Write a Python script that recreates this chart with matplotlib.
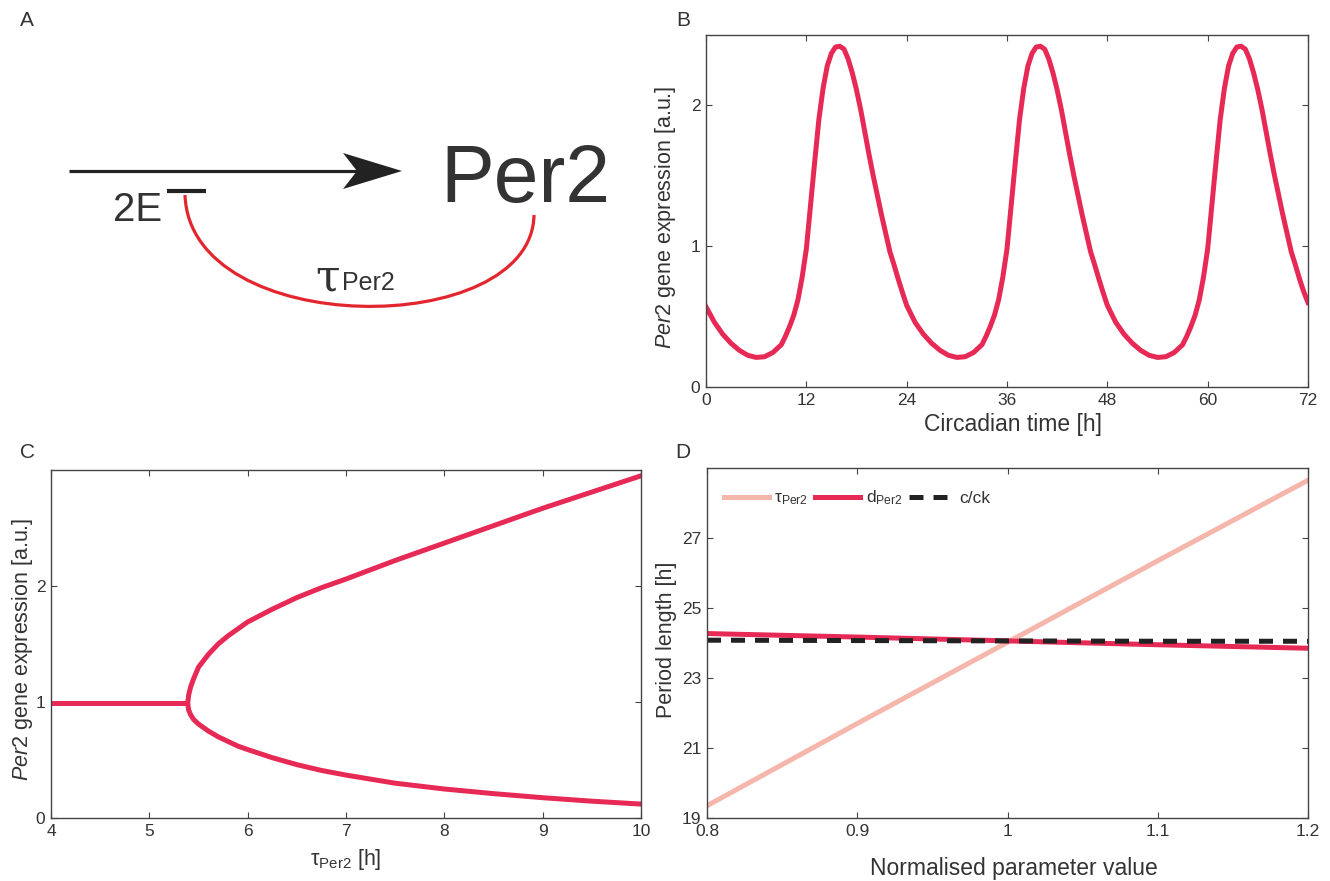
import numpy as np
import matplotlib
matplotlib.use('Agg')
import matplotlib.pyplot as plt
from matplotlib.patches import Polygon, PathPatch
from matplotlib.path import Path

plt.rcParams['font.family'] = ['Liberation Sans', 'DejaVu Sans']
plt.rcParams['mathtext.fontset'] = 'custom'
plt.rcParams['mathtext.rm'] = 'Liberation Sans'
plt.rcParams['mathtext.it'] = 'Liberation Sans:italic'

# ---- data ----
# B: Per2 expression over 72 h
time_h = [0, 1, 2, 3, 4, 5, 6, 7, 8, 9, 9.5, 10, 10.5, 11, 11.5, 12, 12.5, 13, 13.5, 14, 14.5,
          15, 15.5, 16, 16.5, 17, 17.5, 18, 18.5, 19, 19.5, 20, 20.5, 21, 21.5, 22, 22.5, 23, 23.5,
          24, 25, 26, 27, 28, 29, 30, 31, 32, 33, 33.5, 34, 34.5, 35, 35.5, 36, 36.5, 37, 37.5, 38, 38.5,
          39, 39.5, 40, 40.5, 41, 41.5, 42, 42.5, 43, 43.5, 44, 44.5, 45, 45.5, 46, 46.5, 47, 47.5,
          48, 49, 50, 51, 52, 53, 54, 55, 56, 57, 57.5, 58, 58.5, 59, 59.5, 60, 60.5, 61, 61.5, 62, 62.5,
          63, 63.5, 64, 64.5, 65, 65.5, 66, 66.5, 67, 67.5, 68, 68.5, 69, 69.5, 70, 70.5, 71, 71.5, 72]
per2_expr = [0.57, 0.46, 0.375, 0.31, 0.26, 0.225, 0.21, 0.215, 0.245, 0.30, 0.36, 0.43, 0.51, 0.62, 0.78, 0.98, 1.29, 1.60, 1.90, 2.12, 2.28,
             2.37, 2.415, 2.42, 2.40, 2.33, 2.23, 2.11, 1.97, 1.81, 1.65, 1.50, 1.36, 1.22, 1.09, 0.96, 0.865, 0.765, 0.67,
             0.58, 0.46, 0.375, 0.31, 0.26, 0.225, 0.21, 0.215, 0.245, 0.30, 0.36, 0.43, 0.51, 0.62, 0.78, 0.98, 1.29, 1.60, 1.90, 2.12, 2.28,
             2.37, 2.415, 2.42, 2.40, 2.33, 2.23, 2.11, 1.97, 1.81, 1.65, 1.50, 1.36, 1.22, 1.09, 0.96, 0.865, 0.765, 0.67,
             0.58, 0.46, 0.375, 0.31, 0.26, 0.225, 0.21, 0.215, 0.245, 0.30, 0.36, 0.43, 0.51, 0.62, 0.78, 0.98, 1.29, 1.60, 1.90, 2.12, 2.28,
             2.37, 2.415, 2.42, 2.40, 2.33, 2.23, 2.11, 1.97, 1.81, 1.65, 1.50, 1.36, 1.22, 1.09, 0.96, 0.865, 0.765, 0.675, 0.60]

# C: bifurcation diagram
steady_tau = [4.0, 5.39]
steady_val = [0.99, 0.99]
upper_tau = [5.39, 5.40, 5.42, 5.45, 5.5, 5.6, 5.7, 5.8, 5.9, 6.0, 6.25, 6.5, 6.75, 7.0, 7.5, 8.0, 8.5, 9.0, 9.5, 10.0]
upper_val = [0.99, 1.06, 1.13, 1.20, 1.30, 1.41, 1.50, 1.57, 1.63, 1.69, 1.80, 1.90, 1.985, 2.06, 2.22, 2.37, 2.52, 2.67, 2.81, 2.95]
lower_tau = [5.39, 5.40, 5.42, 5.45, 5.5, 5.6, 5.7, 5.8, 5.9, 6.0, 6.25, 6.5, 6.75, 7.0, 7.5, 8.0, 8.5, 9.0, 9.5, 10.0]
lower_val = [0.99, 0.93, 0.89, 0.85, 0.81, 0.75, 0.70, 0.66, 0.62, 0.59, 0.52, 0.46, 0.41, 0.37, 0.30, 0.25, 0.21, 0.175, 0.145, 0.12]

# D: period vs normalised parameter
norm_param = [0.8, 0.9, 1.0, 1.1, 1.2]
period_tau = [19.35, 21.7, 24.02, 26.35, 28.65]
period_d = [24.27, 24.17, 24.06, 23.95, 23.85]
period_cck = [24.08, 24.07, 24.06, 24.05, 24.05]

W, H = 1330, 881
crimson = '#E62A55'
salmon = '#F5B6AB'
txt = '#333333'

fig = plt.figure(figsize=(W / 100, H / 100), dpi=100)


def style(ax):
    for s in ax.spines.values():
        s.set_color('#444444')
        s.set_linewidth(1.0)
    ax.tick_params(direction='in', top=True, right=True, length=4, width=0.8,
                   colors='#444444', labelcolor=txt, labelsize=12.5, pad=4)


# ---- A: schematic ----
axA = fig.add_axes([0, 1 - 430 / H, 660 / W, 430 / H])
axA.set_xlim(0, 660)
axA.set_ylim(430, 0)
axA.axis('off')
axA.plot([69, 362], [171, 171], color='#222222', lw=2.3, solid_capstyle='butt')
axA.add_patch(Polygon([[402, 171], [343, 153], [357, 171], [343, 189]], closed=True,
                      color='#222222', lw=0))
axA.text(440, 202, 'Per2', fontsize=58, color=txt, ha='left', va='baseline')
axA.text(113, 221, '2E', fontsize=29, color=txt, ha='left', va='baseline')
axA.plot([167, 206], [191, 191], color='#222222', lw=3, solid_capstyle='butt')
arc = Path([(185, 195), (190, 340), (532, 340), (534, 215)],
           [Path.MOVETO, Path.CURVE4, Path.CURVE4, Path.CURVE4])
axA.add_patch(PathPatch(arc, facecolor='none', edgecolor='#E3262E', lw=2.3))
axA.text(328, 290, 'τ', fontsize=32, family='DejaVu Serif', color=txt, ha='center', va='baseline')
axA.text(342, 290, 'Per2', fontsize=18, color=txt, ha='left', va='baseline')

# ---- B: time course ----
axB = fig.add_axes([706 / W, 1 - 387 / H, 602 / W, 352 / H])
axB.plot(time_h, per2_expr, color=crimson, lw=3.6)
axB.set_xlim(0, 72)
axB.set_ylim(0, 2.5)
axB.set_xticks([0, 12, 24, 36, 48, 60, 72])
axB.set_yticks([0, 1, 2])
axB.set_xlabel('Circadian time [h]', fontsize=16.5, color=txt)
axB.set_ylabel(r'$\mathit{Per2}$ gene expression [a.u.]', fontsize=15.5, color=txt)
style(axB)
axB.xaxis.set_label_coords(0.51, -0.075)
axB.yaxis.set_label_coords(-0.047, 0.483)

# ---- C: bifurcation ----
axC = fig.add_axes([51 / W, 1 - 818 / H, 590 / W, 348 / H])
axC.plot(steady_tau, steady_val, color=crimson, lw=3.6, solid_capstyle='butt')
axC.plot(upper_tau, upper_val, color=crimson, lw=3.6)
axC.plot(lower_tau, lower_val, color=crimson, lw=3.6)
axC.set_xlim(4, 10)
axC.set_ylim(0, 3)
axC.set_xticks([4, 5, 6, 7, 8, 9, 10])
axC.set_yticks([0, 1, 2])
axC.set_xlabel(r'$\mathregular{\tau_{Per2}}$ [h]', fontsize=15.5, color=txt)
axC.set_ylabel(r'$\mathit{Per2}$ gene expression [a.u.]', fontsize=15.5, color=txt)
style(axC)
axC.xaxis.set_label_coords(0.5, -0.082)
axC.yaxis.set_label_coords(-0.027, 0.486)

# ---- D: period length ----
axD = fig.add_axes([707 / W, 1 - 818 / H, 601 / W, 350 / H])
axD.plot(norm_param, period_tau, color=salmon, lw=3.6, label=r'$\mathregular{\tau_{Per2}}$')
axD.plot(norm_param, period_d, color=crimson, lw=3.6, label=r'$\mathregular{d_{Per2}}$')
axD.plot(norm_param, period_cck, color='#222222', lw=3.6, dashes=(2.8, 2.0), label='c/ck')
axD.set_xlim(0.8, 1.2)
axD.set_ylim(19, 29)
axD.set_xticks([0.8, 0.9, 1.0, 1.1, 1.2])
axD.set_xticklabels(['0.8', '0.9', '1', '1.1', '1.2'])
axD.set_yticks([19, 21, 23, 25, 27])
axD.set_xlabel('Normalised parameter value', fontsize=16.5, color=txt)
axD.set_ylabel('Period length [h]', fontsize=15.5, color=txt)
style(axD)
axD.xaxis.set_label_coords(0.51, -0.11)
axD.yaxis.set_label_coords(-0.05, 0.51)
axD.legend(loc='center left', bbox_to_anchor=(0.028, 0.914), ncol=3, frameon=False,
           fontsize=12.5, handlelength=2.6, handletextpad=0.3, columnspacing=0.4,
           borderpad=0, borderaxespad=0, labelcolor=txt)

# panel letters
for lab, px, py in [('A', 27, 20), ('B', 683, 20), ('C', 27, 453), ('D', 683, 453)]:
    fig.text(px / W, 1 - py / H, lab, fontsize=15, color=txt, ha='center', va='center')

fig.savefig('out.png', dpi=100)
